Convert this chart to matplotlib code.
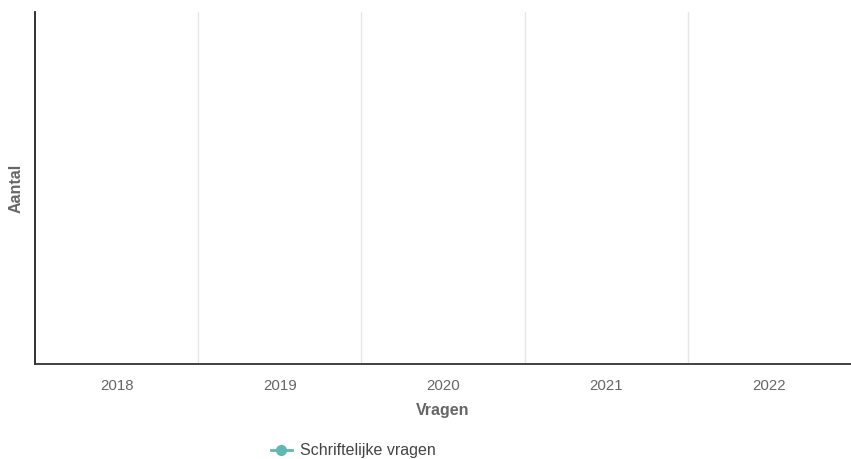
import numpy as np
import matplotlib.pyplot as plt
from matplotlib.lines import Line2D

plt.rcParams['font.family'] = ['Liberation Sans', 'DejaVu Sans']

years = ['2018', '2019', '2020', '2021', '2022']
# the series has no visible points in the chart
schriftelijke_vragen = [np.nan, np.nan, np.nan, np.nan, np.nan]
series_name = 'Schriftelijke vragen'
line_color = '#5fb8b3'

W, H = 851, 459
fig = plt.figure(figsize=(W / 100, H / 100), dpi=100)
ax = fig.add_axes([35 / W, 1 - 364 / H, 816 / W, (364 - 12) / H])

x = np.arange(len(years))
ax.plot(x, schriftelijke_vragen, color=line_color, marker='o', lw=2, ms=6)

ax.set_xlim(-0.5, len(years) - 0.5)
ax.set_ylim(0, 1)
ax.set_xticks(x)
ax.set_xticklabels(years, color='#666666', fontsize=10.8)
ax.tick_params(axis='x', length=0, pad=11)
ax.set_yticks([])

# category boundaries as vertical grid lines
for b in np.arange(0.5, len(years) - 1, 1.0):
    ax.axvline(b, color='#e6e6e6', lw=1, zorder=0)

for s in ['top', 'right']:
    ax.spines[s].set_visible(False)
ax.spines['left'].set_color('#222222')
ax.spines['bottom'].set_color('#333333')
ax.spines['left'].set_linewidth(1.3)
ax.spines['bottom'].set_linewidth(1.3)

ax.set_xlabel('Vragen', color='#666666', fontsize=11.5, fontweight='bold', labelpad=7)
fig.text(16 / W, 1 - 188 / H, 'Aantal', rotation=90, ha='center', va='center',
         color='#666666', fontsize=11.5, fontweight='bold')

handle = Line2D([], [], color=line_color, marker='o', lw=2, ms=7)
fig.legend([handle], [series_name], loc='center', bbox_to_anchor=(353 / W, 1 - 451 / H),
           frameon=False, fontsize=11.5, labelcolor='#444444', handlelength=1.3,
           handletextpad=0.5, borderaxespad=0)

fig.savefig('out.png', dpi=100)
